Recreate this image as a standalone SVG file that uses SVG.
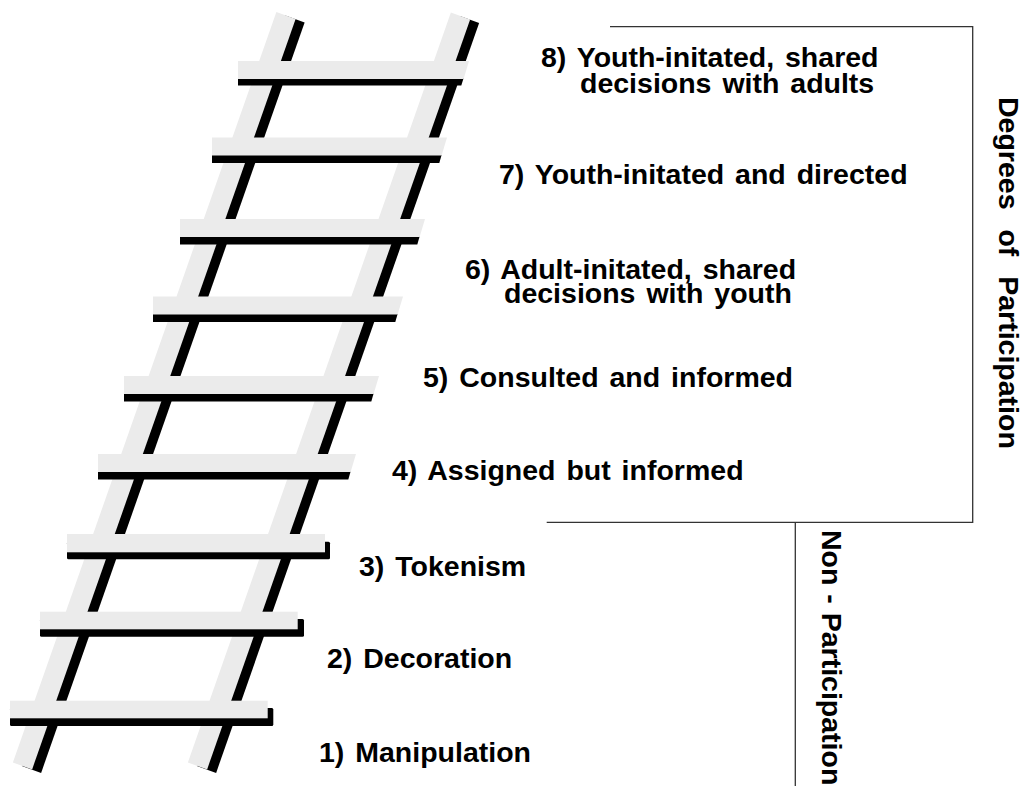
<svg xmlns="http://www.w3.org/2000/svg" width="1023" height="786" viewBox="0 0 1023 786">
<style>
.g{fill:#ebebeb}
.k{fill:#000}
.rail{stroke:#ebebeb;stroke-width:20.4;stroke-linecap:butt;fill:none}
.rs{stroke:#000;stroke-width:20.4;stroke-linecap:butt;fill:none}
.t{font-family:"Liberation Sans",Arial,Helvetica,sans-serif;font-weight:bold;font-size:28.5px;fill:#000;word-spacing:3px}
.ln{stroke:#333;stroke-width:1.3;fill:none}
</style>
<rect width="1023" height="786" fill="#fff"/>
<g id="rails">
<line class="rs" x1="295" y1="19" x2="31.5" y2="769.5"/>
<line class="rs" x1="469.5" y1="19.5" x2="206.5" y2="769.5"/>
<line class="rail" x1="286" y1="15.5" x2="22.5" y2="766"/>
<line class="rail" x1="460.5" y1="16" x2="197.5" y2="766"/>
</g>
<g id="rung-9"><polygon class="k" points="238,78 463.6,78 461.3,85.5 238,85.5"/><polygon class="g" points="238,61 469,61 463.6,79 238,79"/></g>
<g id="rung-8"><polygon class="k" points="212,155 441.6,155 439.3,163 212,163"/><polygon class="g" points="212,137.5 447,137.5 441.6,155.5 212,155.5"/></g>
<g id="rung-7"><polygon class="k" points="180,236.5 419.6,236.5 417.3,244.5 180,244.5"/><polygon class="g" points="180,219 425,219 419.6,237 180,237"/></g>
<g id="rung-6"><polygon class="k" points="153,314 397.6,314 395.3,322 153,322"/><polygon class="g" points="153,296.5 403,296.5 397.6,314.5 153,314.5"/></g>
<g id="rung-5"><polygon class="k" points="124,393.5 373.6,393.5 371.3,401.5 124,401.5"/><polygon class="g" points="124,376 379,376 373.6,394 124,394"/></g>
<g id="rung-4"><polygon class="k" points="98,471.5 350.6,471.5 348.3,479.5 98,479.5"/><polygon class="g" points="98,454 356,454 350.6,472 98,472"/></g>
<g id="rung-3"><rect class="k" x="67" y="541.7" width="263" height="17.6" rx="1.5"/><rect class="g" x="67" y="534" width="258" height="18.3"/></g>
<g id="rung-2"><rect class="k" x="40" y="619" width="264" height="17.7" rx="1.5"/><rect class="g" x="40" y="611.7" width="257.7" height="17.6"/></g>
<g id="rung-1"><rect class="k" x="10" y="708" width="263.3" height="18" rx="1.5"/><rect class="g" x="10" y="700.7" width="257.7" height="17.6"/></g>
<g id="brackets">
<polyline class="ln" points="610,26.7 972.7,26.7 972.7,522.3 546.7,522.3"/>
<line class="ln" x1="795.3" y1="522.3" x2="795.3" y2="786"/>
</g>
<g id="label-8"><text class="t"><tspan x="541" y="66.7">8) Youth-initated, shared</tspan><tspan x="580" y="93.3">decisions with adults</tspan></text></g>
<g id="label-7"><text class="t" x="499" y="184.3">7) Youth-initated and directed</text></g>
<g id="label-6"><text class="t"><tspan x="465" y="279.3">6) Adult-initated, shared</tspan><tspan x="504" y="303.3">decisions with youth</tspan></text></g>
<g id="label-5"><text class="t" x="423" y="386.7">5) Consulted and informed</text></g>
<g id="label-4"><text class="t" x="392" y="479.5">4) Assigned but informed</text></g>
<g id="label-3"><text class="t" x="359" y="576">3) Tokenism</text></g>
<g id="label-2"><text class="t" x="327" y="668.3">2) Decoration</text></g>
<g id="label-1"><text class="t" x="319" y="761.7">1) Manipulation</text></g>
<g id="degrees"><text class="t" style="word-spacing:12px" transform="translate(999,97) rotate(90)">Degrees of Participation</text></g>
<g id="non"><text class="t" style="word-spacing:1px" transform="translate(822,530) rotate(90)">Non - Participation</text></g>
</svg>
